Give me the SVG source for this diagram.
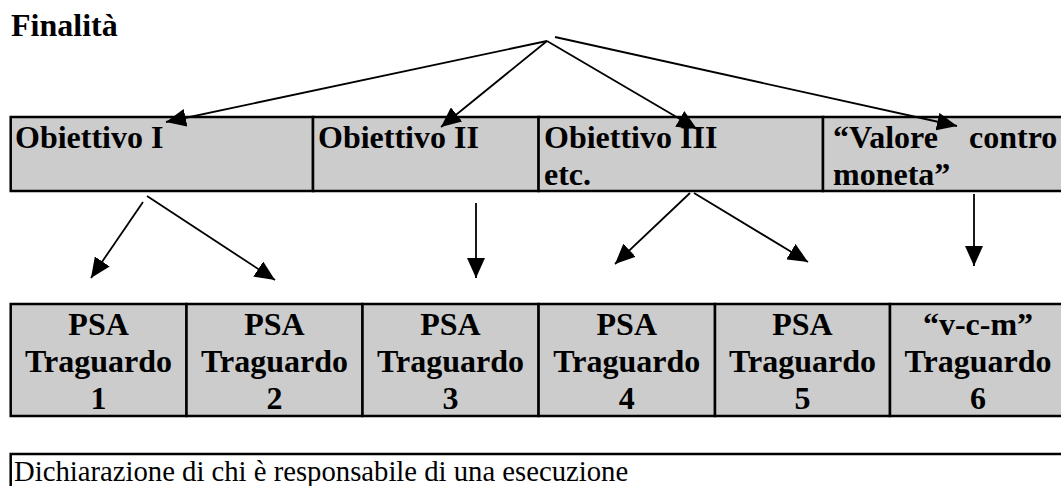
<svg xmlns="http://www.w3.org/2000/svg" width="1061" height="486" viewBox="0 0 1061 486">
<style>
  .cell { fill: #cccccc; stroke: #000; stroke-width: 2.5; }
  .box { fill: #fff; stroke: #000; stroke-width: 2.5; }
  .b { font-family: "Liberation Serif", "Times New Roman", serif; font-weight: bold; font-size: 32px; fill: #000; }
  .bc { font-family: "Liberation Serif", "Times New Roman", serif; font-weight: bold; font-size: 32px; fill: #000; text-anchor: middle; }
  .r { font-family: "Liberation Serif", "Times New Roman", serif; font-size: 28.7px; fill: #000; }
  .conn line { stroke: #000; stroke-width: 1.8; fill: none; marker-end: url(#ah); }
</style>
<defs>
  <marker id="ah" markerUnits="userSpaceOnUse" viewBox="0 0 20 18" markerWidth="20" markerHeight="18" refX="20" refY="9" orient="auto">
    <path d="M0,0 L20,9 L0,18 Z" fill="#000"/>
  </marker>
</defs>
<rect width="1061" height="486" fill="#fff"/>

<g id="finalita">
  <text class="b" x="11" y="36">Finalità</text>
</g>

<g id="obiettivo1">
  <rect class="cell" x="10.7" y="117" width="302.3" height="74"/>
  <text class="b" x="15" y="148">Obiettivo I</text>
</g>
<g id="obiettivo2">
  <rect class="cell" x="313" y="117" width="225.6" height="74"/>
  <text class="b" x="318" y="148">Obiettivo II</text>
</g>
<g id="obiettivo3">
  <rect class="cell" x="538.6" y="117" width="284.4" height="74"/>
  <text class="b" x="544" y="148">Obiettivo III</text>
  <text class="b" x="544" y="185">etc.</text>
</g>
<g id="valore">
  <rect class="cell" x="823" y="117" width="243" height="74"/>
  <text class="b" y="148"><tspan x="833">“Valore</tspan><tspan x="969">contro</tspan></text>
  <text class="b" x="833" y="185">moneta”</text>
</g>

<g id="traguardo1">
  <rect class="cell" x="10.7" y="304" width="175.8" height="112"/>
  <text class="bc" x="98.6" y="335">PSA</text>
  <text class="bc" x="98.6" y="372">Traguardo</text>
  <text class="bc" x="98.6" y="409">1</text>
</g>
<g id="traguardo2">
  <rect class="cell" x="186.5" y="304" width="176" height="112"/>
  <text class="bc" x="274.5" y="335">PSA</text>
  <text class="bc" x="274.5" y="372">Traguardo</text>
  <text class="bc" x="274.5" y="409">2</text>
</g>
<g id="traguardo3">
  <rect class="cell" x="362.5" y="304" width="176.1" height="112"/>
  <text class="bc" x="450.5" y="335">PSA</text>
  <text class="bc" x="450.5" y="372">Traguardo</text>
  <text class="bc" x="450.5" y="409">3</text>
</g>
<g id="traguardo4">
  <rect class="cell" x="538.6" y="304" width="176.4" height="112"/>
  <text class="bc" x="626.8" y="335">PSA</text>
  <text class="bc" x="626.8" y="372">Traguardo</text>
  <text class="bc" x="626.8" y="409">4</text>
</g>
<g id="traguardo5">
  <rect class="cell" x="715" y="304" width="175" height="112"/>
  <text class="bc" x="802.5" y="335">PSA</text>
  <text class="bc" x="802.5" y="372">Traguardo</text>
  <text class="bc" x="802.5" y="409">5</text>
</g>
<g id="traguardo6">
  <rect class="cell" x="890" y="304" width="176" height="112"/>
  <text class="bc" x="978" y="335">“v-c-m”</text>
  <text class="bc" x="978" y="372">Traguardo</text>
  <text class="bc" x="978" y="409">6</text>
</g>

<g id="dichiarazione">
  <rect class="box" x="10.7" y="454" width="1056" height="40"/>
  <text class="r" x="14" y="481">Dichiarazione di chi è responsabile di una esecuzione</text>
</g>

<g id="connectors" class="conn">
  <line x1="547" y1="41" x2="166" y2="122"/>
  <line x1="547" y1="41" x2="441" y2="127"/>
  <line x1="547" y1="41" x2="697" y2="129"/>
  <line x1="555" y1="37" x2="957" y2="126"/>
  <line x1="143" y1="202" x2="91" y2="278"/>
  <line x1="147" y1="196" x2="275" y2="280"/>
  <line x1="476" y1="203" x2="476" y2="278"/>
  <line x1="690" y1="193" x2="615" y2="264"/>
  <line x1="694" y1="193" x2="808" y2="262"/>
  <line x1="974" y1="194" x2="974" y2="266"/>
</g>
</svg>
